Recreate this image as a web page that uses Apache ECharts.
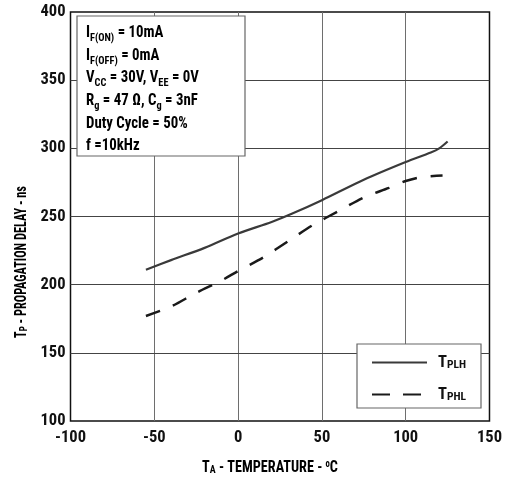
<!DOCTYPE html>
<html>
<head>
<meta charset="utf-8">
<script src="https://cdn.jsdelivr.net/npm/echarts@6/dist/echarts.min.js"></script>
<style>html,body{margin:0;padding:0;background:#fff}#c{width:505px;height:480px}</style>
</head>
<body>
<div id="c"></div>
<script>
var xTicks = [-100, -50, 0, 50, 100, 150];
var yTicks = [100, 150, 200, 250, 300, 350, 400];
var tempPLH = [-55, -40, -20, 0, 20, 32, 50, 75, 100, 115, 120, 125];
var delayPLH = [211, 218, 227, 237.5, 246, 252, 262, 277, 290, 297, 300, 305];
var tempPHL = [-55, -40, -25, -10, 0, 15, 30, 45, 60, 75, 90, 100, 110, 122];
var delayPHL = [177, 184, 194, 203, 210, 220, 232, 244, 254, 264, 271, 276, 279, 280];

var FONT = '"Roboto Condensed", "Open Sans Condensed", sans-serif';
function pairs(xs, ys) { return xs.map(function (x, i) { return [x, ys[i]]; }); }

var chart = echarts.init(document.getElementById('c'));
var sub = { fontSize: 11.5, fontWeight: 'bold', fontFamily: FONT, color: '#111', verticalAlign: 'bottom', padding: [5, 0, 0, 0] };
var main = { fontSize: 16.5, fontWeight: 'bold', fontFamily: FONT, color: '#111' };
var supS = { fontSize: 10, fontWeight: 'bold', fontFamily: FONT, color: '#111', verticalAlign: 'top', padding: [0, 0, 7, 0] };

var annoLines = [
  '{m|I}{s|F(ON)}{m| = 10mA}',
  '{m|I}{s|F(OFF)}{m| = 0mA}',
  '{m|V}{s|CC}{m| = 30V, V}{s|EE}{m| = 0V}',
  '{m|R}{s|g}{m| = 47 Ω, C}{s|g}{m| = 3nF}',
  '{m|Duty Cycle = 50%}',
  '{m|f =10kHz}'
];
var xName = '{m|T}{s|A}{m| - TEMPERATURE - }{sup|o}{m|C}';
var yName = '{m|T}{s|P}{m| - PROPAGATION DELAY - ns}';

var gridMarks = xTicks.slice(1, -1).map(function (v) { return { xAxis: v, lineStyle: { color: '#6e6e6e', width: 1, type: 'solid' } }; })
  .concat(yTicks.slice(1, -1).map(function (v) { return { yAxis: v, lineStyle: { color: '#444', width: 1, type: 'solid' } }; }));

chart.setOption({
  animation: false,
  backgroundColor: '#fff',
  grid: { left: 70.5, right: 12.5, top: 12, bottom: 59, show: true, borderColor: '#111', borderWidth: 1.5 },
  xAxis: {
    type: 'value', min: xTicks[0], max: xTicks[xTicks.length - 1], interval: 50,
    axisLine: { show: false },
    axisTick: { show: false },
    splitLine: { show: false },
    axisLabel: { fontSize: 16.5, fontWeight: 'bold', fontFamily: FONT, color: '#111', margin: 8 }
  },
  yAxis: {
    type: 'value', min: yTicks[0], max: yTicks[yTicks.length - 1], interval: 50,
    axisLine: { show: false },
    axisTick: { show: false },
    splitLine: { show: false },
    axisLabel: { fontSize: 16.5, fontWeight: 'bold', fontFamily: FONT, color: '#111', margin: 5 }
  },
  legend: {
    orient: 'vertical', left: 371, top: 354, padding: 0, z: 20,
    itemWidth: 55, itemHeight: 14, itemGap: 15,
    itemStyle: { opacity: 0 },
    data: [{ name: 'PLH' }, { name: 'PHL', lineStyle: { type: [18, 13] } }],
    formatter: function (n) { return '{t|T}{s|' + n + '}'; },
    textStyle: { rich: { t: { fontSize: 16.5, fontWeight: 'bold', fontFamily: FONT, color: '#111', padding: [0, 0, 0, 6] }, s: sub } }
  },
  graphic: [
    { type: 'rect', z: 8, shape: { x: 77, y: 16, width: 168, height: 140 }, style: { fill: '#fff', stroke: '#666', lineWidth: 1.2 } },
    { type: 'text', z: 9, x: 86, y: 21.5, scaleX: 0.9, style: { x: 0, y: 0, text: annoLines.join('\n'), lineHeight: 22.7, rich: { m: Object.assign({}, main, { lineHeight: 22.7 }), s: Object.assign({}, sub, { lineHeight: 22.7 }) } } },
    { type: 'rect', z: 8, shape: { x: 357, y: 344, width: 124, height: 64 }, style: { fill: '#fff', stroke: '#666', lineWidth: 1.2 } },
    { type: 'text', z: 9, x: 270, y: 468, scaleX: 0.86, style: { x: 0, y: 0, align: 'center', verticalAlign: 'middle', text: xName, rich: { m: main, s: sub, sup: supS } } },
    { type: 'text', z: 9, x: 22, y: 262, rotation: Math.PI / 2, scaleX: 0.77, style: { x: 0, y: 0, align: 'center', verticalAlign: 'middle', text: yName, rich: { m: { fontSize: 16, fontWeight: 'bold', fontFamily: FONT, color: '#111' }, s: sub } } }
  ],
  series: [
    { name: 'grid', type: 'line', data: [], z: 5, silent: true,
      markLine: { z: 5, silent: true, symbol: ['none', 'none'], label: { show: false }, animation: false, data: gridMarks } },
    { name: 'PLH', type: 'line', smooth: 0.3, symbol: 'none', showSymbol: false, z: 7, data: pairs(tempPLH, delayPLH), lineStyle: { color: '#3a3a3a', width: 2.2 }, itemStyle: { color: '#3a3a3a' } },
    { name: 'PHL', type: 'line', smooth: 0.3, symbol: 'none', showSymbol: false, z: 7, data: pairs(tempPHL, delayPHL), lineStyle: { color: '#1a1a1a', width: 2.5, type: [15, 14] }, itemStyle: { color: '#1a1a1a' } }
  ]
});
</script>
</body>
</html>
